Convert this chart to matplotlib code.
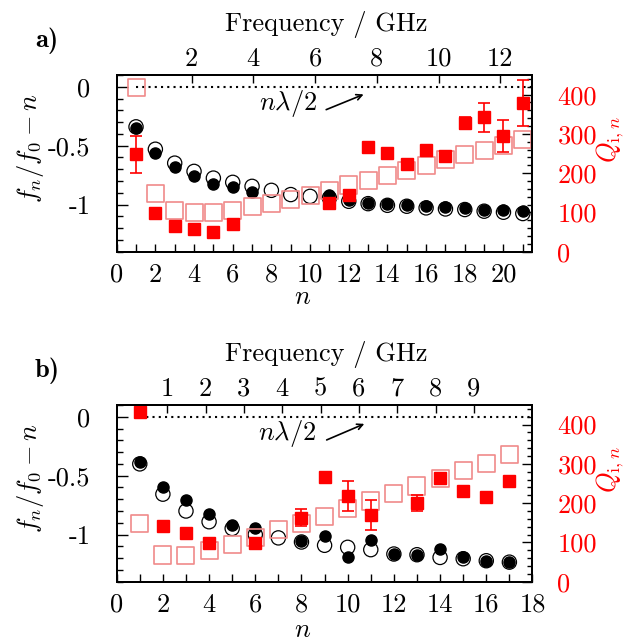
import numpy as np
import matplotlib
matplotlib.use("Agg")
from matplotlib import pyplot as plt
from matplotlib.ticker import MultipleLocator

plt.rcParams['font.family'] = 'cmr10'
plt.rcParams['mathtext.fontset'] = 'cm'
plt.rcParams['axes.unicode_minus'] = False

# ---- panel a) ----
n_a = list(range(1, 22))
shift_theo_a = [-0.34, -0.53, -0.648, -0.718, -0.775, -0.811, -0.845, -0.879, -0.915, -0.93, -0.944,
                -0.972, -0.992, -1.006, -1.014, -1.028, -1.037, -1.042, -1.056, -1.065, -1.076]
n_meas_a = [1, 2, 3, 4, 5, 6, 7, 11, 12, 13, 14, 15, 16, 17, 18, 19, 20, 21]
shift_meas_a = [-0.352, -0.558, -0.682, -0.755, -0.823, -0.851, -0.896, -0.915, -0.96, -0.986,
                -0.992, -1.0, -1.014, -1.022, -1.031, -1.042, -1.048, -1.056]
q_theo_a = [418.7, 147, 106, 99.3, 99.3, 106, 114.6, 123.3, 134.2, 144.4, 157, 169.9, 182.6,
            195.3, 208, 220.8, 235.3, 246.3, 259, 271.7, 284.5]
n_q_a = [1, 2, 3, 4, 5, 6, 11, 12, 13, 14, 15, 16, 17, 18, 19, 20, 21]
q_meas_a = [248, 97.8, 65.5, 57, 49.4, 70.5, 123.3, 144.4, 267.4, 252.1, 223.3, 259, 243.7,
            327, 342.3, 294.7, 378]
q_err_a = [47, 3, 3, 3, 3, 3, 4, 5, 6, 4, 5, 4, 4, 15, 37, 40, 58]

# ---- panel b) ----
n_b = list(range(1, 18))
shift_theo_b = [-0.4, -0.657, -0.8, -0.891, -0.948, -1.0, -1.028, -1.063, -1.091, -1.108, -1.128,
                -1.165, -1.171, -1.194, -1.205, -1.222, -1.234]
n_meas_b = [1, 2, 3, 4, 5, 6, 8, 9, 10, 11, 12, 13, 14, 15, 16, 17]
shift_meas_b = [-0.38, -0.594, -0.708, -0.823, -0.919, -0.943, -1.051, -1.014, -1.194, -1.042,
                -1.165, -1.171, -1.123, -1.194, -1.222, -1.234]
q_theo_b = [147, 68, 67.2, 79, 93.5, 112, 131.7, 147, 166.6, 187, 205.5, 225.1, 243.7, 263.3,
            282.7, 301.5, 322.7]
n_q_b = [1, 2, 3, 4, 6, 8, 9, 10, 11, 13, 14, 15, 16, 17]
q_meas_b = [431.4, 142.6, 123.3, 99.3, 99.3, 163, 266.6, 218.3, 169.9, 201.2, 263.3, 231, 216.5, 256.4]
q_err_b = [3, 3, 3, 3, 3, 21, 5, 39, 37, 20, 4, 4, 4, 4]

W, H = 639, 641
fig = plt.figure(figsize=(W / 100, H / 100), dpi=100)

def px(x, y):
    return x / W, 1 - y / H

FS = 19
light = '#f08a8a'


def panel(rect, n, th, nm, me, qt, nq, qm, qe, nmax, flim, fticks, arrow):
    ax = fig.add_axes(rect)
    ax.set_xlim(0, nmax)
    ax.set_ylim(-1.4, 0.1)
    ax.hlines(0, 1, nmax, colors='k', linestyles=(0, (1, 2.0)), lw=1.5)
    ax.scatter(n, th, s=105, facecolors='none', edgecolors='k', linewidths=0.9, zorder=3)
    ax.scatter(nm, me, s=64, c='k', zorder=4)
    ax.annotate('', xy=arrow[1], xytext=arrow[0],
                arrowprops=dict(arrowstyle='->', color='k', lw=1.2))
    ax.text(arrow[0][0] - 0.35, arrow[0][1] + 0.06, r'$n\lambda/2$', fontsize=FS,
            ha='right', va='center')
    ax.set_yticks([0, -0.5, -1])
    ax.set_yticklabels(['0', '-0.5', '-1'])
    ax.yaxis.set_minor_locator(MultipleLocator(0.1))
    ax.xaxis.set_major_locator(MultipleLocator(2))
    ax.xaxis.set_minor_locator(MultipleLocator(1))
    ax.tick_params(which='both', direction='in', top=False, right=False, labelsize=FS)
    ax.tick_params(axis='y', which='major', length=8, width=1, pad=19)
    ax.tick_params(axis='y', which='minor', length=4, width=1)
    ax.tick_params(axis='x', which='both', length=6, width=1, pad=8)

    axr = ax.twinx()
    axr.set_ylim(0, 450)
    axr.scatter(n, qt, s=150, marker='s', facecolors='none', edgecolors=light, linewidths=1.2, zorder=3)
    axr.errorbar(nq, qm, yerr=qe, fmt='s', ms=8, color='red', ecolor='red', elinewidth=1.2,
                 capsize=4, capthick=1.2, zorder=4)
    axr.yaxis.set_major_locator(MultipleLocator(100))
    axr.yaxis.set_minor_locator(MultipleLocator(20))
    axr.tick_params(which='both', direction='in', labelsize=FS, labelcolor='red', pad=18)
    axr.tick_params(which='major', length=7, width=1)
    axr.tick_params(which='minor', length=3.5, width=1)

    axt = ax.twiny()
    axt.set_xlim(*flim)
    axt.set_xticks(fticks)
    axt.set_xticklabels([str(t) for t in fticks])
    axt.tick_params(direction='in', length=6, width=1, labelsize=FS, pad=3)
    for a in (ax, axr, axt):
        for s in a.spines.values():
            s.set_linewidth(1.4)
    return ax


panel([0.1826, 0.6073, 0.6507, 0.2757], n_a, shift_theo_a, n_meas_a, shift_meas_a,
      q_theo_a, n_q_a, q_meas_a, q_err_a, 21.5, (-0.427, 13.04), [2, 4, 6, 8, 10, 12],
      ((10.7, -0.203), (12.9, -0.056)))
panel([0.1826, 0.0925, 0.6507, 0.2757], n_b, shift_theo_b, n_meas_b, shift_meas_b,
      q_theo_b, n_q_b, q_meas_b, q_err_b, 18, (-0.32, 10.53), [1, 2, 3, 4, 5, 6, 7, 8, 9],
      ((8.98, -0.206), (10.83, -0.051)))

for dy in (0, 330):
    fig.text(*px(47, 41 + dy), 'a)' if dy == 0 else 'b)', family='cmb10', fontsize=FS,
             ha='center', va='center')
    fig.text(*px(326, 25 + dy), 'Frequency / GHz', fontsize=FS, ha='center', va='center')
    fig.text(*px(303, 297 + dy + (3 if dy else 0)), r'$n$', fontsize=FS, ha='center', va='center')
    fig.text(*px(30, 148 + dy), r'$f_n/f_0 - n$', fontsize=FS, rotation=90,
             ha='center', va='center')
    fig.text(*px(610, 140 + dy), r'$Q_{\mathrm{i},n}$', fontsize=FS, rotation=90,
             ha='center', va='center', color='red')

fig.savefig('out.png', dpi=100)
